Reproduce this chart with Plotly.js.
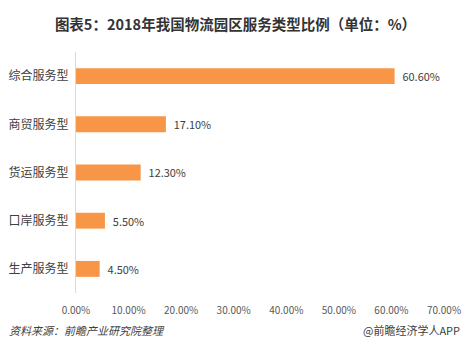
<!DOCTYPE html>
<html><head><meta charset="utf-8">
<script src="https://cdn.plot.ly/plotly-3.0.1.min.js"></script>
<style>body{margin:0;padding:0;background:#fff}#chart{width:471px;height:356px}</style>
</head><body><div id="chart"></div>
<script>
const categories = ["综合服务型", "商贸服务型", "货运服务型", "口岸服务型", "生产服务型"];
const values = [60.6, 17.1, 12.3, 5.5, 4.5];
const tickVals = [0, 10, 20, 30, 40, 50, 60, 70];
const tickText = ["0.00%", "10.00%", "20.00%", "30.00%", "40.00%", "50.00%", "60.00%", "70.00%"];
const titleText = "图表5：2018年我国物流园区服务类型比例（单位：%）";
const sourceText = "资料来源：前瞻产业研究院整理";
const brandText = "@前瞻经济学人APP";

const font = "'Microsoft YaHei', 'Noto Sans CJK SC', sans-serif";
const trace = {
  type: "bar", orientation: "h",
  y: categories, x: values,
  marker: {color: "#F79646"},
  width: 0.33,
  text: values.map(v => "\u00a0\u00a0" + v.toFixed(2) + "%"),
  textposition: "outside",
  textfont: {family: font, size: 11, color: "#404040"},
  cliponaxis: false,
  hoverinfo: "none"
};
const layout = {
  width: 471, height: 356,
  margin: {l: 76, r: 27, t: 52, b: 63},
  paper_bgcolor: "#fff", plot_bgcolor: "#fff",
  showlegend: false,
  title: {text: "<b>" + titleText + "</b>", font: {family: font, size: 14.5, color: "#333"}, x: 0.5, xanchor: "center", y: 0.93, yanchor: "middle"},
  xaxis: {range: [0, 70], tickvals: tickVals, ticktext: tickText, showgrid: false, zeroline: false, showline: false,
          ticks: "", tickfont: {family: font, size: 10, color: "#595959"}, ticklabelstandoff: 10, fixedrange: true},
  yaxis: {autorange: "reversed", showgrid: false, zeroline: false, showline: true, linecolor: "#d9d9d9", linewidth: 1,
          ticks: "", tickfont: {family: font, size: 12, color: "#404040"}, ticklabelstandoff: 4, fixedrange: true},
  annotations: [
    {text: "<i>" + sourceText + "</i>", xref: "paper", yref: "paper", x: -69/368, y: -37/241, xanchor: "left", yanchor: "middle",
     showarrow: false, font: {family: font, size: 11, color: "#404040"}},
    {text: brandText, xref: "paper", yref: "paper", x: (462 - 76)/368, y: -37/241, xanchor: "right", yanchor: "middle",
     showarrow: false, font: {family: font, size: 11, color: "#404040"}}
  ]
};
Plotly.newPlot("chart", [trace], layout, {displayModeBar: false, staticPlot: true});
</script></body></html>
